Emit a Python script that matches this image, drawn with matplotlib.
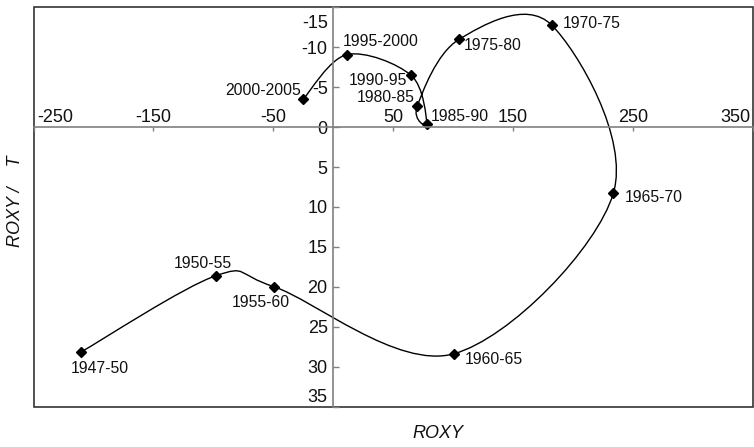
import matplotlib
matplotlib.use("Agg")
import matplotlib.pyplot as plt
import matplotlib.transforms as mtransforms
import numpy as np
from matplotlib.path import Path
from matplotlib.patches import PathPatch, Rectangle

plt.rcParams["font.family"] = ["Liberation Sans", "DejaVu Sans"]
plt.rcParams["axes.unicode_minus"] = False

# data
periods = ["1947-50", "1950-55", "1955-60", "1960-65", "1965-70", "1970-75",
           "1975-80", "1980-85", "1985-90", "1990-95", "1995-2000", "2000-2005"]
roxy = [-210.7, -97.7, -49.3, 100.4, 233.5, 182.1, 104.8, 69.9, 78.2, 64.9, 11.5, -25.2]
roxy_dt = [28.2, 18.6, 20.0, 28.4, 8.3, -12.8, -11.0, -2.6, -0.4, -6.5, -9.1, -3.5]

# label placement: (dx, dy) in pixels, horizontal alignment
label_pos = [(19, -16, "center"), (-13, 12, "center"), (-13, -16, "center"),
             (40, -6, "center"), (11, -4, "left"), (11, 2, "left"),
             (5, -6, "left"), (-2, 9, "right"), (3.5, 8, "left"),
             (-3.5, -5, "right"), (-4, 13.5, "left"), (-2, 9, "right")]

xticks = [-250, -150, -50, 50, 150, 250, 350]
yticks = [-15, -10, -5, 0, 5, 10, 15, 20, 25, 30, 35]


def smooth_path(xs, ys):
    """Excel-style smoothed line as cubic Bezier segments."""
    pts = np.column_stack([xs, ys])
    n = len(pts)
    verts = [pts[0]]
    codes = [Path.MOVETO]
    for i in range(n - 1):
        p0 = pts[i - 1] if i > 0 else pts[i]
        p3 = pts[i + 2] if i + 2 < n else pts[i + 1]
        c1 = pts[i] + (pts[i + 1] - p0) / 6
        c2 = pts[i + 1] - (p3 - pts[i]) / 6
        verts += [c1, c2, pts[i + 1]]
        codes += [Path.CURVE4] * 3
    return Path(verts, codes)


fig = plt.figure(figsize=(7.54, 4.47), dpi=100)
W, H = 754, 447
ax = fig.add_axes([33.5 / W, 1 - 406.5 / H, (753 - 33.5) / W, (406.5 - 7.5) / H])

ax.set_xlim(-250, 350)
ax.set_ylim(35, -15)

ax.add_patch(PathPatch(smooth_path(roxy, roxy_dt), fill=False, color="black", lw=1.0))
ax.plot(roxy, roxy_dt, "D", color="black", ms=5, ls="none")

for x, y, lab, (dx, dy, ha) in zip(roxy, roxy_dt, periods, label_pos):
    ax.annotate(lab, (x, y), xytext=(dx, dy), textcoords="offset pixels",
                ha=ha, va="center", fontsize=11.3, color="#111111")

# center spines
for side in ["left", "bottom", "top"]:
    ax.spines[side].set_position(("data", 0))
ax.spines["top"].set_visible(False)
ax.spines["right"].set_visible(False)
for side in ["left", "bottom"]:
    ax.spines[side].set_color("#808080")
    ax.spines[side].set_linewidth(1.2)

ax.set_xticks(xticks)
ax.set_yticks(yticks)
ax.tick_params(axis="x", direction="out", bottom=True, top=False, labelbottom=False,
               labeltop=True, length=3, width=1, color="#808080", labelsize=13, pad=-2,
               labelcolor="#111111")
ax.tick_params(axis="y", direction="in", left=True, length=4, width=1, color="#808080",
               labelsize=13, pad=4, labelcolor="#111111")


def shift(artist, dx, dy):
    off = mtransforms.ScaledTranslation(dx / 100, dy / 100, fig.dpi_scale_trans)
    artist.set_transform(artist.get_transform() + off)


xt = ax.xaxis.get_major_ticks()
xt[0].label2.set_horizontalalignment("left")
shift(xt[0].label2, 4, 0)
xt[-1].label2.set_horizontalalignment("right")
shift(xt[-1].label2, -3, 0)
yt = ax.yaxis.get_major_ticks()
yt[0].label1.set_verticalalignment("top")
shift(yt[0].label1, 0, -8)
yt[-1].label1.set_verticalalignment("bottom")

# outer frame
ax.add_patch(Rectangle((0, 0), 1, 1, transform=ax.transAxes, fill=False,
                       edgecolor="#333333", lw=1.2, clip_on=False))

fig.text(438 / W, 1 - 434 / H, "ROXY", style="italic", fontsize=13,
         ha="center", va="center", color="#111111")
fig.text(16 / W, 1 - 201 / H, "ROXY /    T", style="italic", fontsize=13,
         ha="center", va="center", rotation=90, color="#111111")

fig.savefig("out.png", dpi=100)
